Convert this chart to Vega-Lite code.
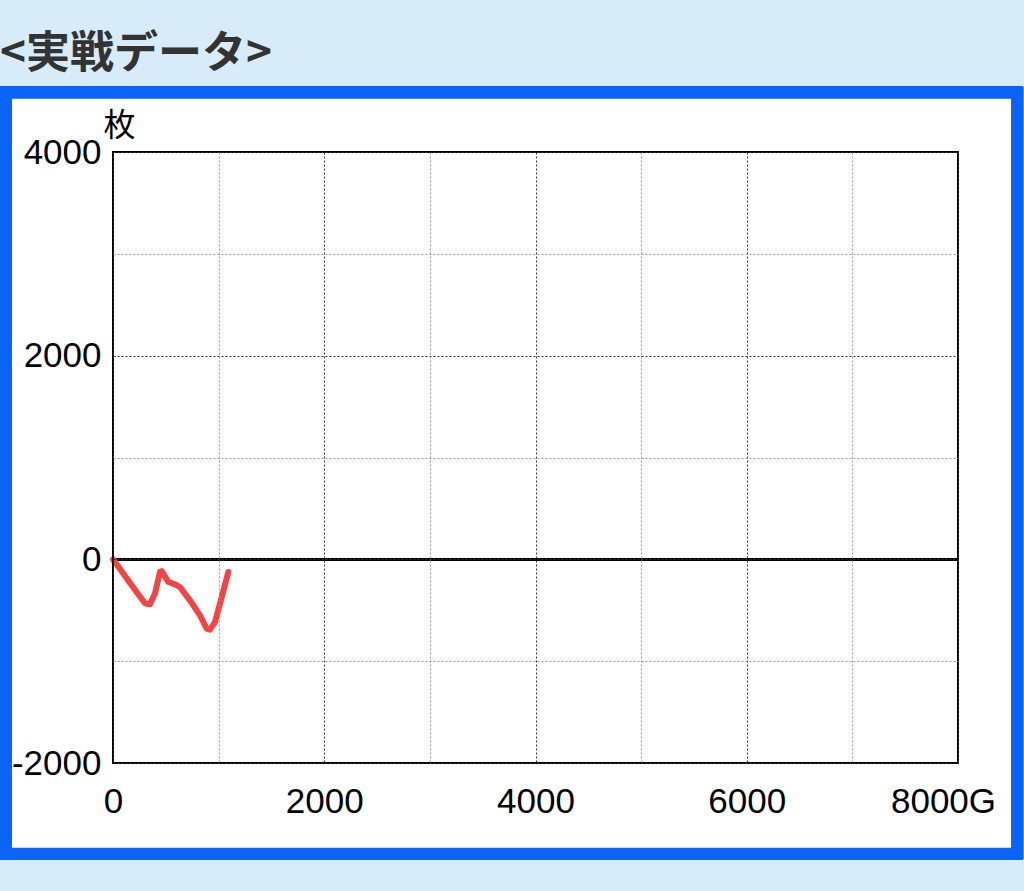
{
  "$schema": "https://vega.github.io/schema/vega-lite/v6.json",
  "width": 845,
  "height": 611,
  "autosize": {"type": "none"},
  "padding": {"left": 113, "top": 152, "right": 66, "bottom": 128},
  "background": "#d7ebf9",
  "title": {
    "text": "<実戦データ>",
    "anchor": "start",
    "frame": "bounds",
    "font": "Noto Sans CJK JP",
    "fontSize": 44,
    "fontWeight": "bold",
    "color": "#333333",
    "offset": 10
  },
  "config": {"view": {"stroke": null}},
  "data": {
    "values": [
      {"game": 0, "coins": 0},
      {"game": 177, "coins": -255},
      {"game": 224, "coins": -321},
      {"game": 303, "coins": -432},
      {"game": 350, "coins": -442},
      {"game": 398, "coins": -334},
      {"game": 445, "coins": -124},
      {"game": 461, "coins": -115},
      {"game": 524, "coins": -223},
      {"game": 587, "coins": -246},
      {"game": 634, "coins": -272},
      {"game": 729, "coins": -403},
      {"game": 824, "coins": -550},
      {"game": 887, "coins": -681},
      {"game": 918, "coins": -691},
      {"game": 966, "coins": -616},
      {"game": 1013, "coins": -435},
      {"game": 1092, "coins": -124}
    ]
  },
  "layer": [
    {
      "mark": {"type": "rect", "fill": "#ffffff", "stroke": "#0a64fa", "strokeWidth": 12, "clip": false},
      "encoding": {
        "x": {"datum": -1013, "type": "quantitative", "scale": {"domain": [0, 8000], "nice": false, "zero": false}},
        "x2": {"datum": 8559},
        "y": {"datum": 4581, "type": "quantitative", "scale": {"domain": [-2000, 4000], "nice": false, "zero": false}},
        "y2": {"datum": -2892}
      }
    },
    {
      "mark": {"type": "rule", "stroke": "#000000", "strokeWidth": 2},
      "encoding": {
        "y": {"datum": 0, "type": "quantitative", "scale": {"domain": [-2000, 4000], "nice": false, "zero": false}}
      }
    },
    {
      "mark": {"type": "line", "color": "#f24444", "strokeWidth": 6, "strokeCap": "round", "strokeJoin": "round"},
      "encoding": {
        "x": {
          "field": "game",
          "type": "quantitative",
          "scale": {"domain": [0, 8000], "nice": false, "zero": false},
          "axis": {
            "values": [0, 1000, 2000, 3000, 4000, 5000, 6000, 7000, 8000],
            "labelExpr": "datum.value == 8000 ? '8000G' : (datum.value % 2000 == 0 ? '' + datum.value : '')",
            "title": null,
            "domain": false,
            "ticks": false,
            "tickSize": 0,
            "labelFont": "Liberation Sans",
            "labelFontSize": 35,
            "labelColor": "#000000",
            "labelPadding": 21,
            "labelFlush": false,
            "labelOverlap": false,
            "labelBound": false,
            "labelOffset": {"condition": {"test": "datum.value == 8000", "value": -15}, "value": 0},
            "grid": true,
            "gridDash": [2, 2],
            "gridWidth": 1,
            "gridColor": {"condition": {"test": "datum.value % 2000 == 0", "value": "#333333"}, "value": "#999999"},
            "zindex": 1
          }
        },
        "y": {
          "field": "coins",
          "type": "quantitative",
          "scale": {"domain": [-2000, 4000], "nice": false, "zero": false},
          "axis": {
            "values": [-2000, -1000, 0, 1000, 2000, 3000, 4000],
            "labelExpr": "datum.value % 2000 == 0 ? '' + datum.value : ''",
            "title": "枚",
            "titleAngle": 0,
            "titleX": 6,
            "titleY": -17,
            "titleAlign": "center",
            "titleBaseline": "alphabetic",
            "titleFont": "Noto Sans CJK JP",
            "titleFontSize": 32,
            "titleFontWeight": "normal",
            "titleColor": "#000000",
            "domain": false,
            "ticks": false,
            "tickSize": 0,
            "labelFont": "Liberation Sans",
            "labelFontSize": 35,
            "labelColor": "#000000",
            "labelPadding": 12,
            "labelFlush": false,
            "labelOverlap": false,
            "labelBound": false,
            "grid": true,
            "gridDash": [2, 2],
            "gridWidth": 1,
            "gridColor": {"condition": {"test": "datum.value % 2000 == 0", "value": "#333333"}, "value": "#999999"},
            "zindex": 1
          }
        }
      }
    },
    {
      "mark": {"type": "rect", "fillOpacity": 0, "stroke": "#000000", "strokeWidth": 1.5},
      "encoding": {
        "x": {"datum": 0, "type": "quantitative", "scale": {"domain": [0, 8000], "nice": false, "zero": false}},
        "x2": {"datum": 8000},
        "y": {"datum": -2000, "type": "quantitative", "scale": {"domain": [-2000, 4000], "nice": false, "zero": false}},
        "y2": {"datum": 4000}
      }
    }
  ]
}
